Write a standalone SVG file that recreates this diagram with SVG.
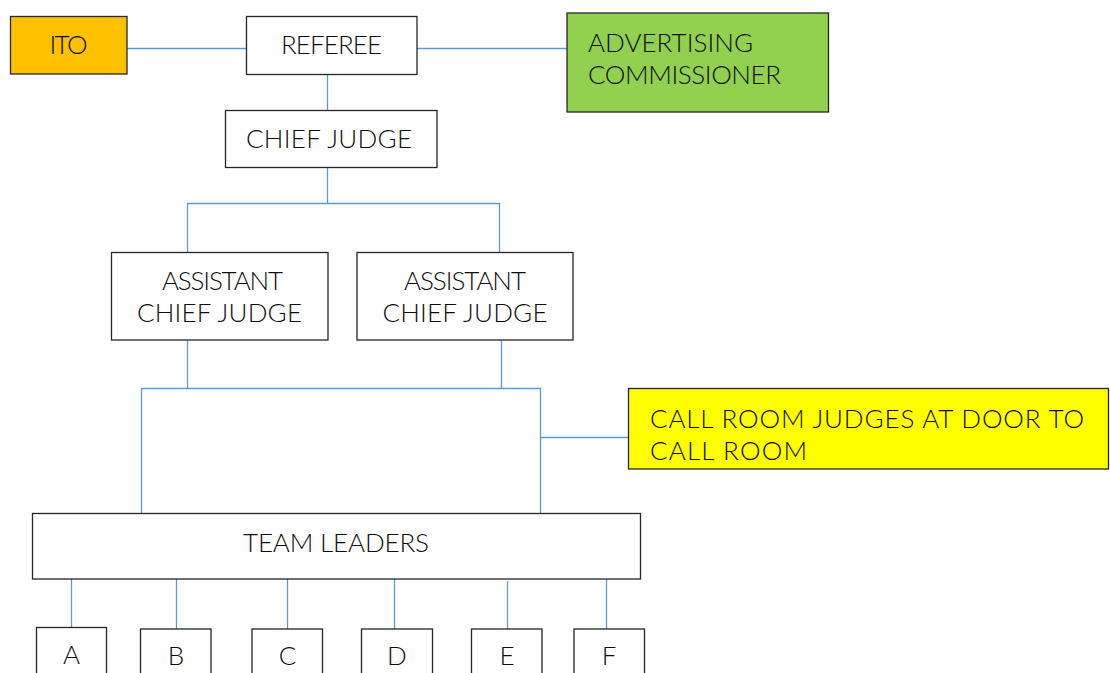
<svg xmlns="http://www.w3.org/2000/svg" width="1110" height="673" viewBox="0 0 1110 673">
  <style>
    .box { stroke: #262626; stroke-width: 1.3; }
    .plain { fill: #ffffff; }
    .lbl { font-family: Lato, "Liberation Sans", sans-serif; font-size: 26px; font-weight: 300; fill: #0d0d0d; }
    .mid { text-anchor: middle; }
    .wire { stroke: #5b9bd5; stroke-width: 1.3; fill: none; }
  </style>
  <rect width="1110" height="673" fill="#ffffff"/>

  <g id="connectors">
    <path class="wire" d="M127 48.5H246"/>
    <path class="wire" d="M417 48.5H567"/>
    <path class="wire" d="M327.5 75V110"/>
    <path class="wire" d="M327.5 168V203.5"/>
    <path class="wire" d="M187.5 252V203.5H499.5V252"/>
    <path class="wire" d="M187.5 340V388.5"/>
    <path class="wire" d="M501.5 340V388.5"/>
    <path class="wire" d="M141.5 513V388.5H540.5V513"/>
    <path class="wire" d="M540.5 437.5H628"/>
    <path class="wire" d="M71.5 579V627"/>
    <path class="wire" d="M176.5 579V629"/>
    <path class="wire" d="M287.5 579V629"/>
    <path class="wire" d="M394.5 579V629"/>
    <path class="wire" d="M507.5 581V629"/>
    <path class="wire" d="M606.5 579V629"/>
  </g>

  <g id="ito">
    <rect class="box" x="10.5" y="16.5" width="116.5" height="57.5" fill="#ffc000"/>
    <text class="lbl mid" x="68.5" y="54" textLength="38">ITO</text>
  </g>

  <g id="referee">
    <rect class="box plain" x="246.5" y="16.5" width="170.5" height="58"/>
    <text class="lbl mid" x="331.5" y="54" textLength="101">REFEREE</text>
  </g>

  <g id="advertising-commissioner">
    <rect class="box" x="567" y="13" width="261.5" height="99" fill="#92d050"/>
    <text class="lbl" x="588" y="52" textLength="165">ADVERTISING</text>
    <text class="lbl" x="588" y="84" textLength="193">COMMISSIONER</text>
  </g>

  <g id="chief-judge">
    <rect class="box plain" x="225.5" y="110.5" width="211.5" height="57"/>
    <text class="lbl mid" x="329" y="148" textLength="166">CHIEF JUDGE</text>
  </g>

  <g id="assistant-chief-judge-1">
    <rect class="box plain" x="111.5" y="252.5" width="216.5" height="87.5"/>
    <text class="lbl mid" x="222.5" y="290" textLength="121">ASSISTANT</text>
    <text class="lbl mid" x="219.5" y="322" textLength="165">CHIEF JUDGE</text>
  </g>

  <g id="assistant-chief-judge-2">
    <rect class="box plain" x="357" y="252.5" width="216" height="87.5"/>
    <text class="lbl mid" x="465" y="290" textLength="122">ASSISTANT</text>
    <text class="lbl mid" x="465" y="322" textLength="165">CHIEF JUDGE</text>
  </g>

  <g id="call-room-judges">
    <rect class="box" x="628.5" y="388.5" width="480" height="80.5" fill="#ffff00"/>
    <text class="lbl" x="650" y="428" textLength="434">CALL ROOM JUDGES AT DOOR TO</text>
    <text class="lbl" x="650" y="460" textLength="157">CALL ROOM</text>
  </g>

  <g id="team-leaders">
    <rect class="box plain" x="32.5" y="513.5" width="608" height="65.5"/>
    <text class="lbl mid" x="336" y="552" textLength="186">TEAM LEADERS</text>
  </g>

  <g id="team-a">
    <rect class="box plain" x="36.5" y="627.5" width="70" height="60"/>
    <text class="lbl mid" x="71.5" y="664">A</text>
  </g>
  <g id="team-b">
    <rect class="box plain" x="140.5" y="629" width="70.5" height="60"/>
    <text class="lbl mid" x="176" y="665">B</text>
  </g>
  <g id="team-c">
    <rect class="box plain" x="252" y="629" width="70.5" height="60"/>
    <text class="lbl mid" x="287.5" y="665">C</text>
  </g>
  <g id="team-d">
    <rect class="box plain" x="361.5" y="629" width="71" height="60"/>
    <text class="lbl mid" x="397" y="665">D</text>
  </g>
  <g id="team-e">
    <rect class="box plain" x="471.5" y="629" width="70.5" height="60"/>
    <text class="lbl mid" x="507" y="665">E</text>
  </g>
  <g id="team-f">
    <rect class="box plain" x="574" y="629" width="70.5" height="60"/>
    <text class="lbl mid" x="609" y="665">F</text>
  </g>
</svg>
